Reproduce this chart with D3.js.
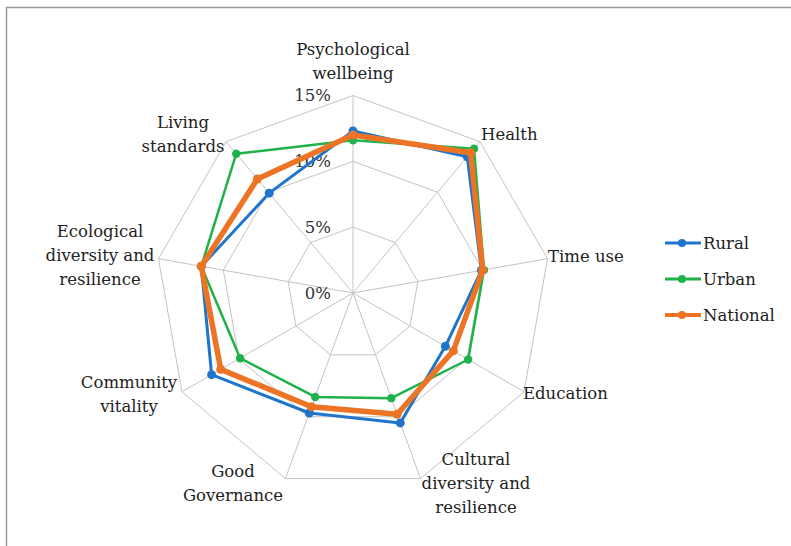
<!DOCTYPE html>
<html>
<head>
<meta charset="utf-8">
<script src="https://cdn.jsdelivr.net/npm/d3@7"></script>
<style>
  html, body { margin: 0; padding: 0; background: #fff; }
  svg { display: block; }
</style>
</head>
<body>
<svg id="chart" width="791" height="546"></svg>
<script>
// ---- data ----
const categories = [
  "Psychological\nwellbeing",
  "Health",
  "Time use",
  "Education",
  "Cultural\ndiversity and\nresilience",
  "Good\nGovernance",
  "Community\nvitality",
  "Ecological\ndiversity and\nresilience",
  "Living\nstandards"
];
const seriesNames = ["Rural", "Urban", "National"];
const rural    = [12.3, 13.5, 9.9, 8.1, 10.5, 9.7, 12.4, 11.7, 9.9];
const urban    = [11.6, 14.3, 10.1, 10.1, 8.5, 8.4, 9.9, 11.7, 13.8];
const national = [12.0, 13.9, 10.0, 8.8, 9.8, 9.2, 11.6, 11.7, 11.3];
const tickValues = [0, 5, 10, 15];
const tickLabels = ["0%", "5%", "10%", "15%"];

// ---- layout / style ----
const cx = 353, cy = 293, R = 197.5;
const colors = ["#1f74cc", "#1fb24a", "#ec7424"];
const widths = [3, 2.5, 5.5];
const markerR = [4.5, 4.2, 4.5];
// label anchor offsets relative to centre (text layout only)
const labelLayout = [
  {anchor: "middle", dx: 0,    dy: -238},
  {anchor: "start",  dx: 128,  dy: -153},
  {anchor: "start",  dx: 195,  dy: -31},
  {anchor: "start",  dx: 170,  dy: 106},
  {anchor: "middle", dx: 123,  dy: 172},
  {anchor: "middle", dx: -120, dy: 184},
  {anchor: "middle", dx: -224, dy: 95},
  {anchor: "middle", dx: -253, dy: -56},
  {anchor: "middle", dx: -170, dy: -165}
];
const lineH = 24;
const fontFamily = "'DejaVu Serif', serif";
const fontSize = 16.5;

const svg = d3.select("#chart");

// outer frame
svg.append("rect")
  .attr("x", 6.5).attr("y", 7.5)
  .attr("width", 900).attr("height", 700)
  .attr("fill", "none").attr("stroke", "#9a9a9a").attr("stroke-width", 1.5);

const n = categories.length;
const angle = d3.scaleLinear().domain([0, n]).range([0, 2 * Math.PI]);
const r = d3.scaleLinear().domain([0, 15]).range([0, R]);

const g = svg.append("g").attr("transform", `translate(${cx},${cy})`);

function pt(i, v) {
  const a = angle(i);
  return [r(v) * Math.sin(a), -r(v) * Math.cos(a)];
}

// grid rings
const ring = d3.line().curve(d3.curveLinearClosed);
tickValues.filter(t => t > 0).forEach(t => {
  g.append("path")
    .attr("d", ring(d3.range(n).map(i => pt(i, t))))
    .attr("fill", "none").attr("stroke", "#c4c4c4").attr("stroke-width", 1);
});
// spokes
d3.range(n).forEach(i => {
  const p = pt(i, 15);
  g.append("line")
    .attr("x1", 0).attr("y1", 0).attr("x2", p[0]).attr("y2", p[1])
    .attr("stroke", "#c4c4c4").attr("stroke-width", 1);
});

// tick labels
tickValues.forEach((t, k) => {
  g.append("text")
    .attr("x", -22).attr("y", -r(t))
    .attr("dy", "0.36em")
    .attr("text-anchor", "end")
    .attr("font-family", fontFamily).attr("font-size", fontSize)
    .attr("fill", "#333")
    .text(tickLabels[k]);
});

// category labels
categories.forEach((c, i) => {
  const L = labelLayout[i];
  const t = g.append("text")
    .attr("text-anchor", L.anchor)
    .attr("font-family", fontFamily).attr("font-size", fontSize)
    .attr("fill", "#222");
  c.split("\n").forEach((line, j) => {
    t.append("tspan").attr("x", L.dx).attr("y", L.dy + j * lineH).text(line);
  });
});

// series
const data = [rural, urban, national];
data.forEach((vals, s) => {
  const pts = vals.map((v, i) => pt(i, v));
  g.append("path")
    .attr("d", ring(pts))
    .attr("fill", "none")
    .attr("stroke", colors[s]).attr("stroke-width", widths[s])
    .attr("stroke-linejoin", "round");
  g.selectAll(null).data(pts).enter().append("circle")
    .attr("cx", d => d[0]).attr("cy", d => d[1])
    .attr("r", markerR[s]).attr("fill", colors[s]);
});

// legend
const legY = d3.scaleLinear().domain([0, 1]).range([243, 279]);
seriesNames.forEach((name, s) => {
  const y = legY(s);
  svg.append("line")
    .attr("x1", 665).attr("x2", 701).attr("y1", y).attr("y2", y)
    .attr("stroke", colors[s]).attr("stroke-width", s === 2 ? 4 : 3);
  svg.append("circle").attr("cx", 682).attr("cy", y).attr("r", 4).attr("fill", colors[s]);
  svg.append("text")
    .attr("x", 703).attr("y", y).attr("dy", "0.36em")
    .attr("font-family", fontFamily).attr("font-size", fontSize)
    .attr("fill", "#222")
    .text(name);
});
</script>
</body>
</html>
